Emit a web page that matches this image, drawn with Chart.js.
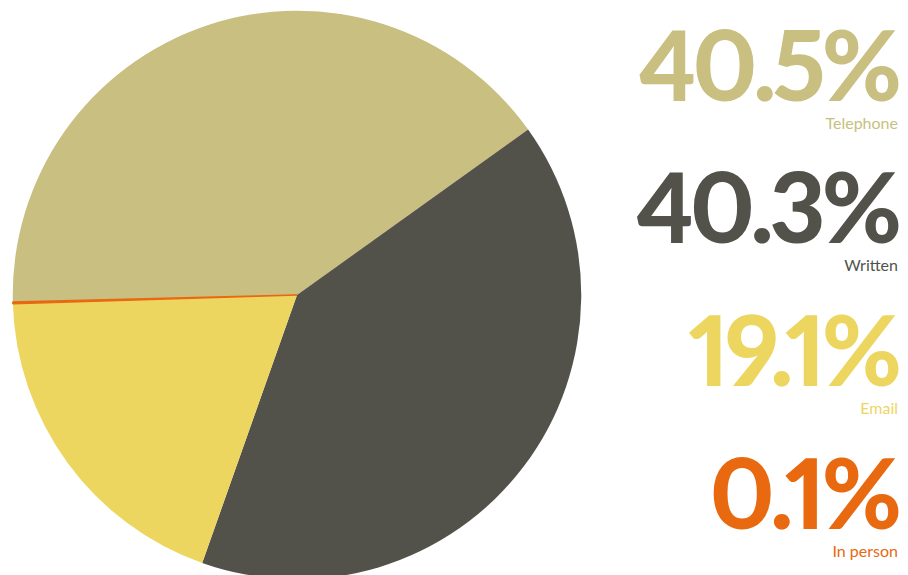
<!DOCTYPE html>
<html>
<head>
<meta charset="utf-8">
<script src="https://cdn.jsdelivr.net/npm/chart.js@4/dist/chart.umd.min.js"></script>
<style>
  html, body { margin:0; padding:0; width:908px; height:575px; overflow:hidden; background:#fff; }
  #wrap { position:absolute; left:0; top:0; width:594px; height:590px; }
  .item { position:absolute; right:10px; text-align:right; }
  .pct { font-family: Lato, "Open Sans", sans-serif; font-weight:900; font-size:97px; line-height:1; letter-spacing:-4px; font-variant-numeric: proportional-nums; font-feature-settings: "pnum" 1; }
  .lbl { font-family: Lato, "Open Sans", sans-serif; font-weight:400; font-size:16px; line-height:1; margin-top:3px; }
</style>
</head>
<body>
<div id="wrap"><canvas id="c" width="594" height="590"></canvas></div>
<div id="legend"></div>
<script>
const categories = ["Telephone", "Written", "Email", "In person"];
const values = [40.5, 40.3, 19.1, 0.1];
const valueLabels = ["40.5%", "40.3%", "19.1%", "0.1%"];
const colors = ["#C8BF80", "#52524B", "#EDD660", "#E8690F"];

new Chart(document.getElementById("c"), {
  type: "pie",
  data: {
    labels: categories,
    datasets: [{
      data: values,
      backgroundColor: colors,
      borderColor: colors,
      borderWidth: [0, 0, 0, 1.5],
      hoverOffset: 0
    }]
  },
  options: {
    responsive: false,
    animation: false,
    rotation: -91.4,
    layout: { padding: { left: 12, right: 12, top: 10, bottom: 10 } },
    plugins: { legend: { display: false }, tooltip: { enabled: false } }
  }
});

const tops = [15, 157, 300, 443];
const legend = document.getElementById("legend");
categories.forEach((c, i) => {
  const d = document.createElement("div");
  d.className = "item";
  d.style.top = tops[i] + "px";
  d.style.color = colors[i];
  d.innerHTML = '<div class="pct"></div><div class="lbl"></div>';
  d.querySelector(".pct").textContent = valueLabels[i];
  d.querySelector(".lbl").textContent = c;
  legend.appendChild(d);
});
</script>
</body>
</html>
